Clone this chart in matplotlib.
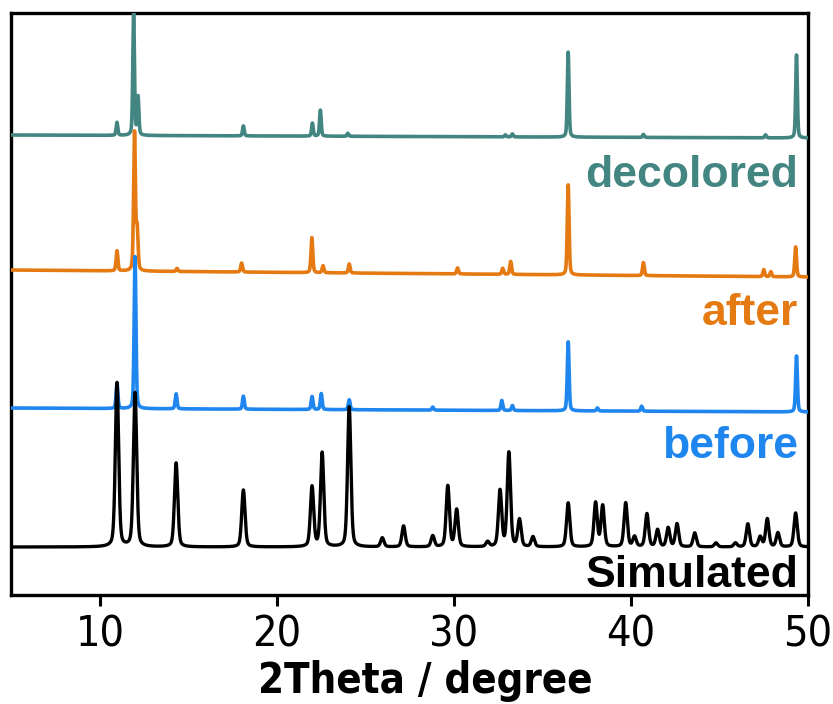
import numpy as np
import matplotlib
matplotlib.use("Agg")
import matplotlib.pyplot as plt
from matplotlib import font_manager

# peak lists: 2theta position, height (arbitrary units)
sim_pos = [10.96, 11.98, 14.3, 18.1, 21.98, 22.55, 24.08, 25.95, 27.15, 28.8, 29.65, 30.15,
           31.9, 32.6, 33.1, 33.7, 34.46, 36.45, 38.0, 38.4, 39.7, 40.2, 40.9, 41.5, 42.1,
           42.6, 43.6, 44.8, 45.9, 46.6, 47.3, 47.7, 48.3, 49.3]
sim_int = [164, 154, 84, 57, 60, 94, 140, 9, 21, 11, 61, 37,
           5, 56, 94, 27, 10, 44, 44, 41, 44, 10, 33, 17, 19,
           23, 14, 4, 4, 23, 10, 28, 14, 34]

before_pos = [10.96, 11.98, 14.3, 18.1, 21.98, 22.5, 24.08, 28.8, 32.7, 33.3, 36.45, 38.1, 40.6, 49.35]
before_int = [25, 152, 15, 13, 13, 16, 10, 3, 10, 5, 69, 3, 5, 56]

after_pos = [10.96, 11.95, 12.1, 14.35, 18.0, 21.97, 22.6, 24.08, 30.2, 32.75, 33.2, 36.45, 40.7, 47.5, 47.9, 49.3]
after_int = [20, 138, 40, 3, 9, 35, 7, 9, 6, 6, 13, 90, 13, 7, 5, 30]

decol_pos = [10.96, 11.9, 12.15, 18.1, 22.0, 22.45, 24.0, 32.9, 33.3, 36.45, 40.7, 47.6, 49.35]
decol_int = [13, 122, 38, 10, 13, 26, 3, 2, 3, 85, 3, 3, 83]

# background level at 5 deg and 50 deg
bg_sim = [0, 0]
bg_before = [0, -4]
bg_after = [0, -7]
bg_decol = [0, -3]

labels = ["Simulated", "before", "after", "decolored"]

# layout / style
offsets = [48, 187, 325, 460]
widths = [0.22, 0.12, 0.12, 0.11]
colors = ["black", "#1E86EE", "#E57A12", "#438580"]
label_y = [8, 137, 270, 408]

x = np.linspace(5, 50, 9001)


def pattern(pos, inten, bg, fwhm):
    y = bg[0] + (bg[1] - bg[0]) * (x - 5) / 45
    for p, h in zip(pos, inten):
        d = (x - p) / (fwhm / 2)
        lor = 1 / (1 + d ** 2)
        gau = np.exp(-np.log(2) * d ** 2)
        y = y + h * (0.35 * lor + 0.65 * gau)
    return y


series = [(sim_pos, sim_int, bg_sim), (before_pos, before_int, bg_before),
          (after_pos, after_int, bg_after), (decol_pos, decol_int, bg_decol)]

fig = plt.figure(figsize=(8.33, 7.04), dpi=100)
ax = fig.add_axes([0.0138, 0.1548, 0.9562, 0.8267])

for i, (pos, inten, bg) in enumerate(series):
    lw = 2.4 if i == 0 else 2.6
    ax.plot(x, offsets[i] + pattern(pos, inten, bg, widths[i]), color=colors[i], lw=lw, zorder=10 - i)
    ax.text(0.988, label_y[i], labels[i], transform=ax.get_yaxis_transform(), ha="right", va="baseline",
            fontsize=32, fontweight="bold", color=colors[i], family=["Liberation Sans", "DejaVu Sans"])

narrow = font_manager.FontProperties(family="DejaVu Sans", stretch="condensed", size=31)
narrow_bold = font_manager.FontProperties(family="DejaVu Sans", stretch="condensed", weight="bold", size=30)

ax.set_xlim(5, 50)
ax.set_ylim(0, 582)
ax.set_yticks([])
ax.set_xticks([10, 20, 30, 40, 50])
ax.tick_params(axis="x", direction="out", length=8, width=2.2, pad=5)
for lab in ax.get_xticklabels():
    lab.set_fontproperties(narrow)
for s in ax.spines.values():
    s.set_linewidth(2.4)
ax.set_xlabel("2Theta / degree", fontproperties=narrow_bold)
ax.xaxis.set_label_coords(0.52, -0.168)
ax.xaxis.label.set_va("baseline")

fig.savefig("out.png", dpi=100)
